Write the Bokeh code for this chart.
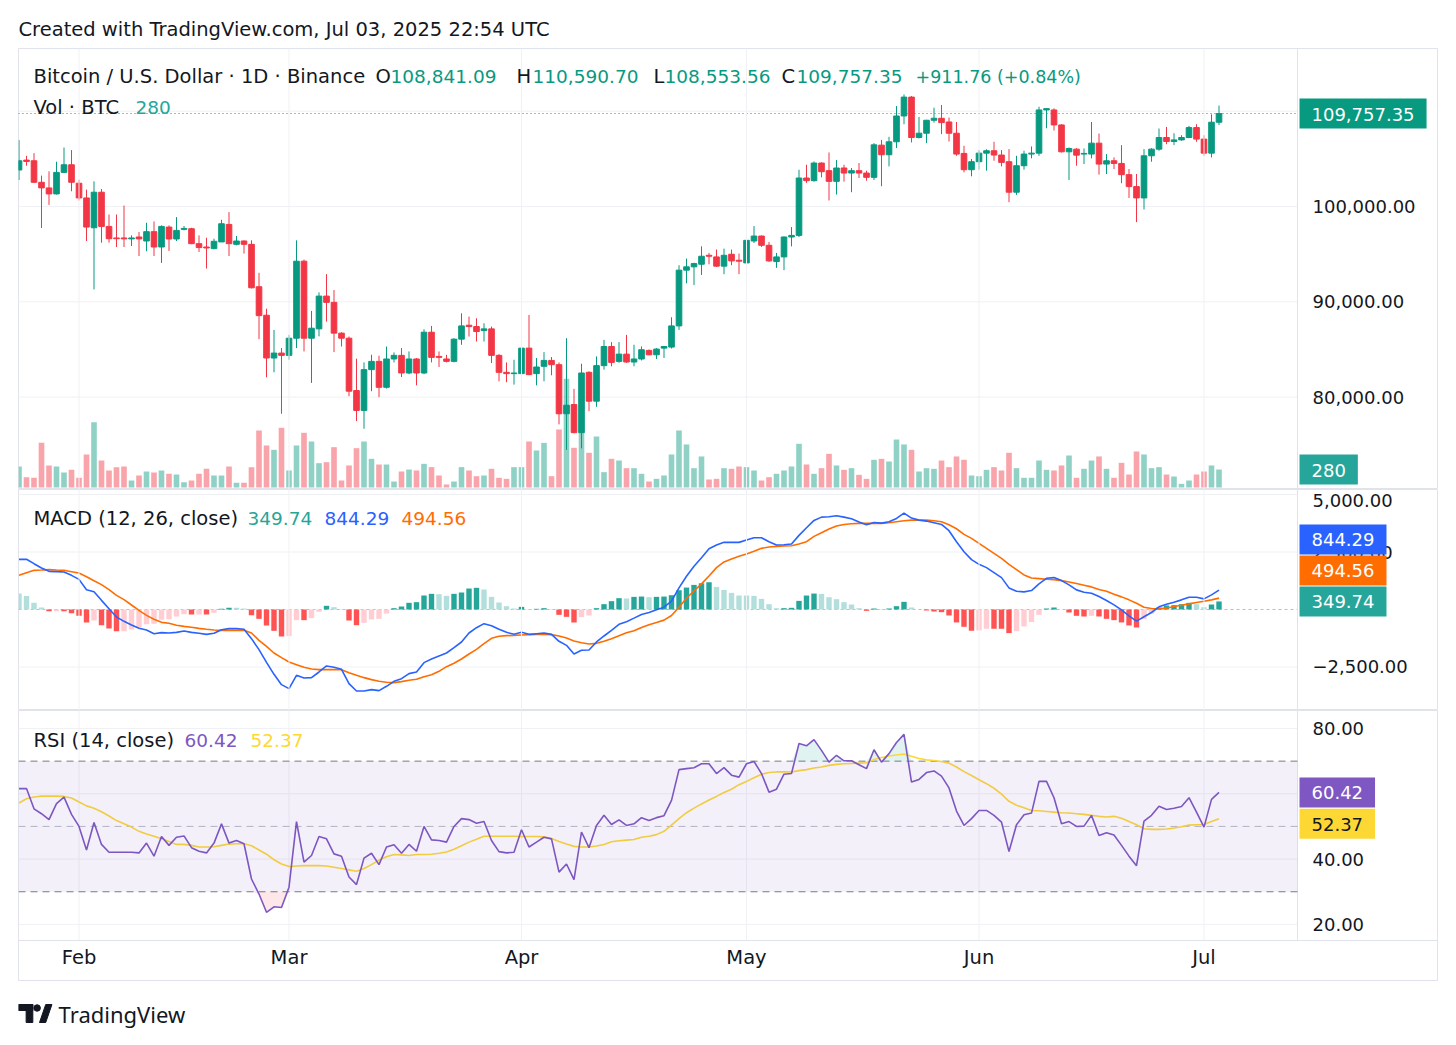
import numpy as np
from bokeh.plotting import figure
from bokeh.models import (Range1d, Span, BoxAnnotation, Label, ColumnDataSource)
from bokeh.layouts import column
from bokeh.embed import file_html
from bokeh.resources import INLINE

# ---------------- data (BTC/USD daily, Binance, 2025-01-24 .. 2025-07-03) ----------------
month_ticks = [8, 36, 67, 97, 128, 158]
month_labels = ["Feb", "Mar", "Apr", "May", "Jun", "Jul"]
price_ticks = [80000, 90000, 100000, 110000]
macd_ticks = [5000, 2500, -2500]
rsi_ticks = [80, 60, 40, 20]

opens = [103830, 104870, 104800, 102540, 101950, 101320, 103580, 104380, 102440, 100900,
         97770, 101500, 97910, 96700, 96700, 96600, 96800, 96380, 97360, 95750,
         97840, 96590, 97600, 97670, 96100, 95750, 95580, 96280, 98120, 96030,
         96380, 96030, 91580, 88590, 84100, 84620, 84380, 86180, 94260, 86180,
         87160, 90600, 89940, 86710, 86180, 80690, 78600, 82880, 83750, 81030,
         84000, 84380, 82530, 84000, 82530, 86810, 84270, 84000, 83750, 86080,
         87540, 87400, 86980, 87160, 84380, 82600, 82460, 82460, 85140, 82460,
         83230, 83850, 83400, 78250, 79220, 76270, 82600, 79570, 83300, 85310,
         83750, 84510, 83680, 84000, 84900, 84440, 85140, 85250, 87470, 93320,
         93670, 93940, 94880, 94710, 93740, 94990, 94360, 94080, 96380, 96900,
         95930, 94220, 94710, 96800, 96970, 102990, 102710, 104560, 103760, 102640,
         104040, 103510, 103760, 103510, 103060, 106440, 105430, 106790, 109500, 111480,
         107240, 107690, 109050, 109260, 108870, 107690, 105570, 103860, 104700, 105600,
         105850, 105400, 104700, 101500, 104280, 105500, 105600, 110130, 110130, 108560,
         105740, 106020, 105500, 105500, 106650, 104450, 104800, 104520, 103340, 102090,
         100900, 105320, 106020, 107240, 106820, 106990, 107240, 108280, 107070, 105600,
         108841.09]
highs = [106960, 105320, 105600, 103240, 103690, 104700, 106190, 105920, 102820, 101770,
         102640, 101840, 99160, 99160, 100100, 96970, 97320, 98290, 98430, 98020,
         98020, 98890, 97950, 97770, 96970, 96730, 96620, 98610, 99410, 96900,
         96450, 96450, 93040, 89280, 87050, 85140, 86530, 96450, 94430, 89040,
         90990, 92900, 91230, 86810, 86360, 84030, 83640, 84440, 84340, 85310,
         84690, 85140, 84790, 84100, 87120, 87470, 84790, 84440, 86180, 88790,
         88450, 88270, 87750, 87400, 84510, 83640, 83920, 85490, 88620, 84100,
         84720, 84200, 83640, 86180, 80860, 83500, 82710, 84270, 86010, 85770,
         85770, 86530, 85490, 85310, 85000, 85140, 85310, 88380, 93840, 94540,
         94100, 95820, 95130, 95480, 95580, 95480, 95060, 97420, 97950, 96950,
         96280, 95130, 96850, 97840, 103860, 104380, 104730, 104630, 105670, 104870,
         104380, 104040, 104560, 103760, 106650, 106990, 107310, 110540, 111760, 111590,
         109400, 109100, 110370, 110650, 109330, 108870, 106370, 104980, 105920, 106000,
         106790, 105920, 106020, 105320, 105850, 106300, 110470, 110300, 110300, 108630,
         106190, 106120, 106090, 108870, 107660, 105500, 105150, 106440, 103930, 103410,
         106020, 106120, 108180, 108350, 107690, 107480, 108460, 108630, 107480, 109670,
         110590.70]
lows = [102780, 104280, 102460, 97740, 100170, 101250, 103500, 101600, 100630, 96380,
        91300, 96200, 96200, 95750, 95750, 95860, 94810, 95300, 94810, 94080,
        95340, 96380, 97490, 96050, 95230, 93490, 95510, 96280, 94810, 95930,
        95060, 91400, 86080, 82080, 82600, 78250, 83920, 85140, 84790, 81490,
        86380, 87920, 84720, 85310, 80090, 77480, 76680, 80620, 79990, 80900,
        83640, 82110, 82400, 81240, 82400, 83640, 83160, 83640, 83650, 85490,
        86360, 85830, 85830, 83570, 81660, 81560, 81310, 82360, 82290, 81240,
        81660, 82290, 77140, 74460, 76200, 74620, 78530, 78980, 82880, 83230,
        83600, 83600, 83230, 83850, 84400, 84000, 84100, 85100, 87050, 91930,
        91750, 92820, 93940, 93650, 92900, 93840, 92900, 94010, 96170, 95760,
        94190, 93560, 93320, 95820, 96800, 102470, 102610, 103060, 100630, 101260,
        102610, 101500, 102990, 102710, 102780, 102120, 104210, 106130, 108630, 106720,
        107140, 106650, 108800, 107590, 106820, 105320, 103580, 103170, 103860, 103760,
        104800, 104210, 100450, 101220, 103860, 105050, 105320, 108210, 107970, 105670,
        102780, 104280, 104450, 105050, 103340, 103410, 103930, 102440, 100900, 98360,
        99690, 104700, 105850, 106540, 106440, 106890, 107170, 106790, 105320, 105150,
        108553.56]
closes = [104800, 104730, 102540, 101950, 101320, 103580, 104380, 102540, 100900, 97840,
          101500, 97910, 96620, 96620, 96600, 96700, 96600, 97360, 95750, 97910,
          96590, 97490, 97700, 96100, 95690, 95650, 96350, 98190, 96100, 96380,
          96030, 91470, 88550, 84100, 84620, 84380, 86180, 94260, 86180, 87230,
          90600, 89940, 86710, 86180, 80620, 78600, 82880, 83750, 81030, 84000,
          84380, 82530, 84000, 82530, 86810, 84170, 84170, 83750, 86080, 87470,
          87400, 86880, 87160, 84380, 82600, 82460, 82530, 85140, 82360, 83160,
          83850, 83400, 78250, 79150, 76270, 82530, 79570, 83300, 85310, 83640,
          84510, 83680, 84000, 84970, 84440, 85040, 85310, 87470, 93320, 93670,
          94010, 94780, 94780, 93740, 94880, 94290, 94260, 96450, 96900, 95930,
          94290, 94710, 96800, 96970, 102990, 102710, 104560, 103650, 102640, 104040,
          103510, 103760, 103510, 103060, 106470, 105430, 106790, 109500, 111480, 107240,
          107690, 109050, 109260, 108800, 107690, 105500, 103860, 104700, 105600, 105850,
          105400, 104630, 101500, 104280, 105500, 105600, 110130, 110270, 108560, 105740,
          106090, 105390, 105570, 106650, 104450, 104800, 104520, 103340, 102090, 100900,
          105320, 106020, 107240, 106820, 106990, 107240, 108280, 107070, 105600, 108845.59,
          109757.35]
volumes = [327, 161, 151, 695, 343, 327, 234, 275, 151, 514,
           1017, 420, 265, 317, 327, 109, 187, 249, 234, 265,
           213, 202, 83, 109, 213, 291, 187, 187, 327, 73,
           73, 317, 887, 654, 586, 929, 265, 654, 851, 716,
           379, 394, 628, 109, 343, 612, 716, 446, 358, 358,
           93, 249, 280, 265, 368, 317, 187, 47, 93, 317,
           265, 176, 187, 291, 151, 135, 317, 317, 716, 576,
           695, 176, 903, 1692, 618, 887, 540, 794, 239, 446,
           420, 301, 301, 213, 93, 135, 187, 514, 887, 670,
           301, 483, 125, 135, 301, 291, 327, 317, 265, 109,
           161, 213, 265, 327, 680, 358, 213, 301, 524, 343,
           275, 301, 197, 135, 431, 446, 405, 747, 670, 586,
           249, 301, 291, 420, 317, 483, 431, 187, 176, 275,
           317, 265, 540, 301, 151, 151, 420, 275, 265, 343,
           498, 151, 291, 420, 483, 291, 151, 384, 202, 561,
           514, 301, 317, 202, 171, 57, 109, 202, 249, 343,
           280]
macd = [2181, 2185, 1992, 1804, 1659, 1645, 1630, 1485, 1311, 862,
        775, 398, 36, -326, -514, -674, -819, -891, -1051, -1007,
        -1022, -993, -935, -993, -1036, -1080, -1036, -877, -833, -833,
        -862, -1268, -1746, -2297, -2818, -3268, -3441, -2862, -2978, -2963,
        -2717, -2456, -2514, -2601, -3224, -3543, -3543, -3485, -3528, -3340,
        -3123, -3007, -2789, -2717, -2311, -2152, -2021, -1891, -1659, -1413,
        -1022, -790, -616, -703, -862, -993, -1080, -993, -1080, -1051,
        -1022, -1080, -1384, -1558, -1934, -1775, -1761, -1413, -1152, -906,
        -645, -529, -376, -217, -130, -14, 101, 361, 939, 1445,
        1879, 2254, 2644, 2803, 2919, 2919, 2919, 3020, 3121, 3121,
        2948, 2803, 2818, 2847, 3222, 3555, 3873, 4017, 4032, 4075,
        4017, 3945, 3800, 3685, 3786, 3757, 3815, 3959, 4191, 3974,
        3887, 3844, 3771, 3699, 3425, 2948, 2514, 2168, 1965, 1821,
        1604, 1387, 939, 795, 766, 824, 1113, 1358, 1387, 1257,
        1069, 853, 751, 708, 564, 390, 202, -14, -275, -506,
        -318, -130, 116, 231, 318, 419, 535, 535, 462, 636,
        844.29]
signal = [1485, 1601, 1703, 1717, 1732, 1717, 1703, 1645, 1587, 1427,
          1253, 1080, 862, 616, 427, 196, -36, -254, -427, -558,
          -601, -688, -732, -775, -819, -862, -891, -906, -906, -906,
          -906, -1022, -1340, -1601, -1891, -2094, -2282, -2398, -2514, -2587,
          -2616, -2616, -2616, -2616, -2746, -2862, -2963, -3050, -3123, -3166,
          -3181, -3137, -3079, -3036, -2920, -2833, -2688, -2485, -2340, -2152,
          -1934, -1732, -1485, -1253, -1166, -1137, -1123, -1108, -1094, -1080,
          -1080, -1094, -1152, -1239, -1369, -1442, -1500, -1471, -1384, -1268,
          -1137, -1007, -925, -780, -665, -564, -462, -260, 101, 491,
          809, 1113, 1459, 1821, 2066, 2196, 2312, 2413, 2529, 2659,
          2717, 2746, 2760, 2774, 2847, 2948, 3179, 3338, 3497, 3627,
          3699, 3728, 3743, 3743, 3743, 3743, 3771, 3815, 3858, 3887,
          3887, 3887, 3858, 3815, 3685, 3511, 3266, 3092, 2876, 2659,
          2442, 2225, 1965, 1734, 1503, 1373, 1344, 1315, 1300, 1257,
          1199, 1127, 1055, 983, 867, 795, 665, 549, 419, 275,
          101, 43, 29, 58, 130, 188, 246, 303, 361, 419,
          494.56]
rsi = [61.6, 61.6, 55.4, 53.9, 52.1, 57.0, 59.0, 53.7, 50.0, 42.8,
       51.2, 44.5, 42.1, 42.1, 42.1, 42.1, 41.9, 44.9, 40.9, 46.9,
       44.2, 46.7, 47.1, 43.5, 42.4, 41.9, 44.9, 50.8, 44.9, 45.7,
       44.7, 33.9, 29.3, 23.7, 25.4, 25.2, 31.4, 51.5, 39.1, 41.1,
       46.9, 46.2, 41.6, 40.9, 34.5, 32.2, 40.3, 41.8, 38.3, 43.7,
       44.4, 41.8, 44.5, 42.4, 50.0, 45.9, 45.7, 45.2, 50.0, 52.4,
       52.1, 51.0, 51.5, 45.7, 42.3, 41.9, 42.1, 49.0, 43.7, 45.2,
       46.7, 46.2, 36.0, 38.5, 33.7, 48.3, 43.5, 50.3, 53.4, 50.6,
       52.0, 50.3, 50.8, 52.7, 51.8, 52.7, 53.3, 58.0, 67.4, 67.7,
       68.0, 69.2, 69.2, 66.2, 68.0, 65.7, 65.1, 69.2, 69.9, 66.2,
       60.5, 61.4, 66.0, 66.2, 75.4, 74.7, 76.6, 73.3, 69.7, 71.8,
       70.1, 70.1, 68.9, 67.7, 73.5, 69.7, 72.3, 75.7, 78.2, 63.6,
       64.4, 66.5, 67.0, 65.4, 61.8, 54.7, 50.3, 52.4, 54.9, 54.9,
       53.4, 51.3, 42.3, 50.5, 53.6, 54.1, 63.8, 63.8, 58.8, 50.8,
       51.5, 50.0, 50.1, 53.4, 47.2, 48.1, 47.4, 44.2, 40.9, 38.0,
       51.6, 53.4, 56.2, 55.2, 55.6, 56.1, 58.8, 54.4, 49.8, 58.3,
       60.42]
rsi_ma = [57.2, 58.5, 59.0, 59.3, 59.3, 59.3, 59.2, 58.7, 57.5, 56.3,
          55.6, 54.5, 53.2, 51.8, 50.8, 49.8, 48.5, 47.7, 47.0, 46.2,
          45.4, 44.5, 44.5, 44.2, 43.7, 43.7, 43.8, 44.2, 44.6, 44.7,
          44.7, 44.1, 42.8, 41.5, 39.8, 38.5, 37.7, 37.9, 38.0, 38.0,
          38.0, 37.9, 37.5, 37.1, 36.7, 36.3, 37.1, 38.3, 39.7, 40.7,
          41.4, 41.3, 41.1, 41.4, 41.4, 41.5, 41.8, 42.2, 43.0, 44.1,
          45.2, 46.1, 47.0, 47.0, 47.0, 47.0, 47.0, 46.9, 46.9, 46.9,
          46.8, 46.3, 45.4, 44.6, 43.9, 43.7, 43.7, 44.0, 44.5, 45.3,
          45.6, 45.8, 46.0, 46.7, 47.0, 47.5, 48.5, 50.4, 52.4, 54.2,
          55.6, 56.9, 58.1, 59.2, 60.4, 61.4, 62.8, 63.8, 64.9, 66.0,
          66.5, 66.7, 66.7, 66.7, 67.1, 67.4, 67.9, 68.2, 68.7, 69.0,
          69.2, 69.3, 69.4, 69.5, 70.5, 71.1, 71.6, 71.9, 72.2, 71.5,
          70.8, 70.4, 70.2, 69.9, 69.4, 68.2, 66.8, 65.6, 64.3, 63.1,
          61.7, 59.9, 57.7, 56.5, 55.7, 54.9, 54.8, 54.6, 54.4, 54.2,
          54.1, 53.9, 53.7, 53.4, 53.1, 52.9, 53.1, 52.5, 51.5, 50.5,
          49.3, 49.1, 49.1, 49.2, 49.5, 49.9, 50.4, 50.5, 50.6, 51.5,
          52.37]

n = len(closes)
for arr in (opens, highs, lows, volumes, macd, signal, rsi, rsi_ma):
    assert len(arr) == n, len(arr)
xs = list(range(n))

# ---------------- style ----------------
UP, DOWN = "#089981", "#f23645"
TXT = "#131722"
GRID_C = "#f0f1f4"
BORDER = "#e0e3eb"
FONT = "DejaVu Sans"
LEG = "19.5px"
NUM = "18.5px"
AX = "18px"

# page-pixel -> data helpers (layout only)
def X(px):
    return (px - 18.5) / 7.5

def Y1(py):
    return 100000 - (py - 206) * 10000 / 95.3

def Y2(py):
    return (609 - py) * 43.48

def Y3(py):
    return 80 - (py - 728) / 3.265

x_range = Range1d(X(18), X(1438))
AXIS_X = X(1297)


def make_pane(frame_h, y_range, top=0):
    p = figure(frame_width=1420, frame_height=frame_h, x_range=x_range, y_range=y_range,
               output_backend="svg", toolbar_location=None,
               x_axis_location=None, y_axis_location=None,
               min_border_left=18, min_border_right=0,
               min_border_top=top, min_border_bottom=0)
    p.outline_line_color = BORDER
    p.outline_line_width = 1
    p.background_fill_color = "white"
    p.border_fill_color = "white"
    p.xgrid.visible = False
    p.ygrid.visible = False
    return p


def hlines(p, ys, color=GRID_C, dash="solid", alpha=1.0, x_end=1297):
    p.segment(x0=[X(18)] * len(ys), y0=ys, x1=[X(x_end)] * len(ys), y1=ys,
              line_color=color, line_dash=dash, line_alpha=alpha, line_width=1)


def text(p, s, px, y, color=TXT, size=LEG, align="left", baseline="middle"):
    p.add_layout(Label(x=X(px), y=y, text=s, text_font=FONT, text_font_size=size,
                       text_color=color, text_baseline=baseline, text_align=align))


def badge(p, s, y, bg, fg="white", y_offset=0, range_name="default"):
    p.add_layout(Label(x=X(1299), y=y, text=s, text_font=FONT, text_font_size=AX,
                       text_color=fg, text_baseline="middle", text_align="left",
                       background_fill_color=bg, background_fill_alpha=1.0,
                       padding=dict(left=12, right=12, top=9, bottom=8),
                       y_offset=y_offset, y_range_name=range_name))


def tick_labels(p, ticks, fmt):
    for t in ticks:
        text(p, fmt(t), 1312, t, size=AX)


# ---------------- price pane ----------------
p1 = make_pane(441, Range1d(Y1(489), Y1(48)), top=48)
p1.title.text = "Created with TradingView.com, Jul 03, 2025 22:54 UTC"
p1.title.text_font = FONT
p1.title.text_font_size = LEG
p1.title.text_font_style = "normal"
p1.title.text_color = TXT
p1.title.align = "left"
p1.title.standoff = 16

for t in month_ticks:
    p1.add_layout(Span(location=t, dimension="height", line_color=GRID_C, line_width=1))
hlines(p1, price_ticks)
p1.add_layout(Span(location=AXIS_X, dimension="height", line_color=BORDER, line_width=1))

p1.extra_y_ranges = {"vol": Range1d(-31, 6831)}
cols = [UP if c >= o else DOWN for o, c in zip(opens, closes)]
src = ColumnDataSource(dict(x=xs, o=opens, h=highs, l=lows, c=closes, v=volumes,
                            top=[max(o, c) for o, c in zip(opens, closes)],
                            bot=[min(o, c) for o, c in zip(opens, closes)],
                            col=cols))
p1.vbar(x="x", top="v", bottom=0, width=0.75, fill_color="col", fill_alpha=0.45,
        line_color=None, y_range_name="vol", source=src)
p1.segment(x0="x", y0="l", x1="x", y1="h", line_color="col", line_width=1, source=src)
p1.vbar(x="x", top="top", bottom="bot", width=0.75, fill_color="col", line_color="col",
        line_width=1, source=src)
hlines(p1, [closes[-1]], color=UP, dash="1 3")

chg = closes[-1] - closes[-2]
pct = chg / closes[-2] * 100
row1 = [("Bitcoin / U.S. Dollar · 1D · Binance", 33, TXT, LEG),
        ("O", 375, TXT, LEG), (f"{opens[-1]:,.2f}", 390, UP, NUM),
        ("H", 516, TXT, LEG), (f"{highs[-1]:,.2f}", 532, UP, NUM),
        ("L", 653, TXT, LEG), (f"{lows[-1]:,.2f}", 664, UP, NUM),
        ("C", 781, TXT, LEG), (f"{closes[-1]:,.2f}", 796, UP, NUM),
        (f"{chg:+,.2f} ({pct:+.2f}%)", 915, UP, "17.5px")]
for s, px, c, sz in row1:
    text(p1, s, px, Y1(76), c, size=sz)
text(p1, "Vol · BTC", 33, Y1(107))
text(p1, f"{volumes[-1]:.0f}", 135, Y1(107), "#26a69a", size=NUM)

tick_labels(p1, price_ticks, lambda v: f"{v:,.2f}")
badge(p1, f"{closes[-1]:,.2f}", closes[-1], UP)
badge(p1, f"{volumes[-1]:.0f}", volumes[-1], "#26a69a", range_name="vol")

# ---------------- MACD pane ----------------
p2 = make_pane(221, Range1d(Y2(710), Y2(489)))
for t in month_ticks:
    p2.add_layout(Span(location=t, dimension="height", line_color=GRID_C, line_width=1))
hlines(p2, macd_ticks)
p2.add_layout(Span(location=AXIS_X, dimension="height", line_color=BORDER, line_width=1))

hist = [m - s for m, s in zip(macd, signal)]
hcol = []
for i, h in enumerate(hist):
    prev = hist[i - 1] if i > 0 else h
    if h >= 0:
        hcol.append("#26a69a" if h > prev else "#b2dfdb")
    else:
        hcol.append("#ffcdd2" if h > prev else "#ff5252")
hlines(p2, [0], color="#787b86", dash="3 3", alpha=0.5)
p2.vbar(x=xs, top=hist, bottom=0, width=0.72, fill_color=hcol, line_color=None)
p2.line(xs, signal, line_color="#ff6d00", line_width=1.6)
p2.line(xs, macd, line_color="#2962ff", line_width=1.6)
for s, px, c, sz in [("MACD (12, 26, close)", 33, TXT, LEG), ("349.74", 247, "#26a69a", NUM),
                     ("844.29", 324, "#2962ff", NUM), ("494.56", 401, "#ff6d00", NUM)]:
    text(p2, s, px, Y2(518), c, size=sz)

text(p2, "5,000.00", 1312, Y2(493), size=AX, baseline="top")
text(p2, "2,500.00", 1312, 2500, size=AX)
text(p2, "\u22122,500.00", 1312, -2500, size=AX)
badge(p2, "349.74", hist[-1], "#26a69a")
badge(p2, "494.56", hist[-1], "#ff6d00", y_offset=31)
badge(p2, "844.29", hist[-1], "#2962ff", y_offset=62)

# ---------------- RSI pane (with date axis band) ----------------
p3 = make_pane(271, Range1d(Y3(981), Y3(710)))
p3.segment(x0=month_ticks, y0=[Y3(940)] * len(month_ticks), x1=month_ticks,
           y1=[Y3(710)] * len(month_ticks), line_color=GRID_C, line_width=1)
hlines(p3, rsi_ticks)
p3.segment(x0=[AXIS_X], y0=[Y3(940)], x1=[AXIS_X], y1=[Y3(710)], line_color=BORDER, line_width=1)
hlines(p3, [Y3(940)], color=BORDER, x_end=1438)

p3.add_layout(BoxAnnotation(bottom=30, top=70, right=AXIS_X, fill_color="#7e57c2",
                            fill_alpha=0.09, line_color=None))
hlines(p3, [70, 30], color="#787b86", dash="7 5")
hlines(p3, [50], color="#787b86", dash="7 5", alpha=0.5)
rsi_arr = np.array(rsi)
p3.varea(x=xs, y1=[70] * n, y2=np.maximum(rsi_arr, 70), fill_color=UP, fill_alpha=0.12)
p3.varea(x=xs, y1=np.minimum(rsi_arr, 30), y2=[30] * n, fill_color=DOWN, fill_alpha=0.12)
p3.line(xs, rsi_ma, line_color="#fdd835", line_width=1.6)
p3.line(xs, rsi, line_color="#7e57c2", line_width=1.6)
for s, px, c, sz in [("RSI (14, close)", 33, TXT, LEG), ("60.42", 184, "#7e57c2", NUM),
                     ("52.37", 250, "#fdd835", NUM)]:
    text(p3, s, px, Y3(740), c, size=sz)

tick_labels(p3, rsi_ticks, lambda v: f"{v:.2f}")
badge(p3, "60.42", rsi[-1], "#7e57c2")
badge(p3, "52.37", rsi_ma[-1], "#fdd835", fg=TXT, y_offset=-5)

for t, lab in zip(month_ticks, month_labels):
    p3.add_layout(Label(x=t, y=Y3(957), text=lab, text_font=FONT, text_font_size=LEG,
                        text_color=TXT, text_baseline="middle", text_align="center"))

# ---------------- footer (logo) ----------------
# the column aligns this frame with the panes' frames (page x = 18), so data x = page x
ft = figure(width=400, height=50, x_range=Range1d(18, 418), y_range=Range1d(0, 50),
            output_backend="svg", toolbar_location=None, x_axis_location=None,
            y_axis_location=None, min_border=0)
ft.outline_line_color = None
ft.grid.visible = False
ft.quad(left=[18], right=[33], top=[27], bottom=[21], color=TXT)
ft.quad(left=[26], right=[33], top=[27], bottom=[9], color=TXT)
ft.circle(x=[37.5], y=[23.5], radius=3.4, color=TXT)
ft.patch(x=[40, 46.5, 53, 46.5], y=[9, 27, 27, 9], color=TXT)
ft.add_layout(Label(x=60, y=18, text="TradingView", text_font="Noto Sans",
                    text_font_size="22px", text_color=TXT, text_baseline="middle"))

layout = column(p1, p2, p3, ft)
open("out.html", "w").write(file_html(layout, INLINE))
